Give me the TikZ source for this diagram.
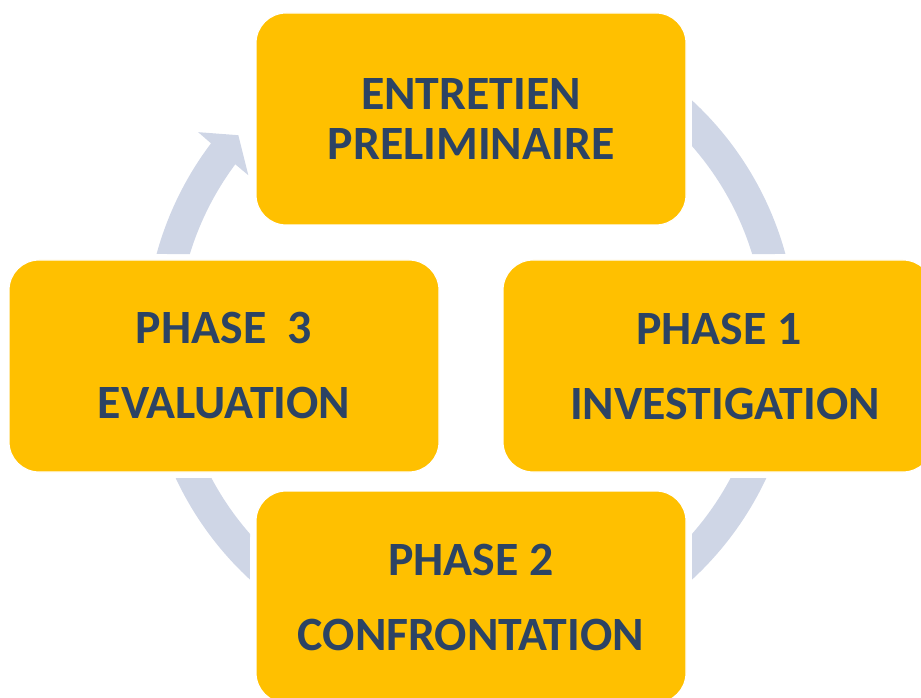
\documentclass[tikz,border=0pt]{standalone}
\usepackage{fontspec}
\setmainfont{Carlito}
\definecolor{gold}{HTML}{FFC000}
\definecolor{navy}{HTML}{2C4364}
\definecolor{ringc}{HTML}{CFD6E6}
\begin{document}
\begin{tikzpicture}[x=1pt,y=1pt,
  phasebox/.style={draw=white, line width=1.2pt, fill=gold, rounded corners=30pt,
    minimum width=430pt, minimum height=212pt, inner sep=0pt, align=center,
    text=navy, font=\fontsize{47.8}{50}\bfseries\selectfont},
  ringseg/.style={fill=ringc, draw=none}]
\useasboundingbox (0,0) rectangle (921,697);
\clip (0,0) rectangle (921,697);
\coordinate (C) at (471,357);
% ring segments
\begin{scope}[shift={(471,357)}]
  \path[ringseg] (47.3:326) arc[start angle=47.3, end angle=15.3, radius=326]
    -- (17.0:294) arc[start angle=17.0, end angle=41.26, radius=294] -- cycle;
  \path[ringseg] (-25.05:326) arc[start angle=-25.05, end angle=-47.3, radius=326]
    -- (-41.26:294) arc[start angle=-41.26, end angle=-28.0, radius=294] -- cycle;
  \path[ringseg] (227.3:326) arc[start angle=227.3, end angle=205.05, radius=326]
    -- (208.0:294) arc[start angle=208.0, end angle=221.26, radius=294] -- cycle;
  \path[ringseg] (164.7:326) arc[start angle=164.7, end angle=142.9, radius=326]
    -- (142.7:343) -- (138.65:310) -- (143.5:277) -- (143.3:294)
    arc[start angle=143.3, end angle=163.0, radius=294] -- cycle;
\end{scope}
% boxes
\node[phasebox] (nTop) at (471,578) {ENTRETIEN\\PRELIMINAIRE};
\node[phasebox] (nRight) at (718,331) {\hspace*{2pt}PHASE 1\\[25pt]\hspace*{14pt}INVESTIGATION};
\node[phasebox] (nBottom) at (471,100) {PHASE 2\\[25pt]CONFRONTATION};
\node[phasebox] (nLeft) at (224,331) {PHASE\ \ 3\\[25pt]EVALUATION};
\end{tikzpicture}
\end{document}
